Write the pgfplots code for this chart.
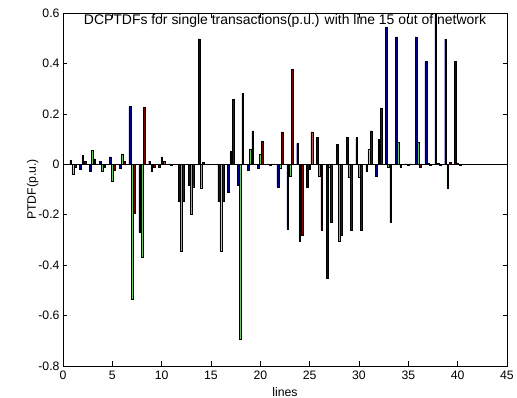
\documentclass[border=0pt]{standalone}
\usepackage{pgfplots}
\pgfplotsset{compat=1.18}
\usepackage{pgfplotstable}
\usepackage{fontspec}
\setmainfont{Liberation Sans}
\definecolor{mblue}{rgb}{0,0,0.5625}
\definecolor{mgreen}{rgb}{0.42,0.8,0.38}
\definecolor{mred}{rgb}{0.5,0,0}
\pgfplotstableread{
x b g r
1 0.017 -0.040 -0.013
2 -0.019 0.037 0.013
3 -0.027 0.057 0.021
4 0.012 -0.029 -0.012
5 0.029 -0.066 -0.023
6 -0.016 0.038 0.013
7 0.229 -0.536 -0.194
8 -0.271 -0.369 0.225
9 0.013 -0.029 -0.012
10 -0.013 0.029 0.013
11 0.002 -0.002 0.002
12 -0.148 -0.344 -0.148
13 -0.085 -0.197 -0.089
14 0.497 -0.093 0.008
15 0 0 0
16 -0.148 -0.344 -0.148
17 -0.109 0.050 0.258
18 -0.082 -0.694 0.280
19 -0.025 0.061 0.133
20 -0.017 0.041 0.090
21 0.002 -0.002 0.002
22 -0.091 -0.015 0.129
23 -0.258 -0.049 0.377
24 0.083 -0.307 -0.283
25 -0.091 -0.020 0.129
26 0.106 -0.049 -0.261
27 -0.452 -0.010 -0.230
28 0.079 -0.307 -0.283
29 0.106 -0.052 -0.263
30 0.106 -0.052 -0.263
31 -0.027 0.060 0.133
32 -0.046 0.100 0.222
33 0.545 -0.013 -0.230
34 0.505 0.086 -0.010
35 0.002 -0.002 0.002
36 0.505 0.086 -0.010
37 0.407 0.003 -0.003
38 0.600 0.003 -0.003
39 0.496 -0.093 0.008
40 0.407 0.003 -0.003
}\data
\begin{document}
\begin{tikzpicture}
\begin{axis}[
  scale only axis,
  width=444bp, height=353bp,
  xmin=0, xmax=45, ymin=-0.8, ymax=0.6,
  xtick={0,5,...,45},
  ytick={-0.8,-0.6,-0.4,-0.2,0,0.2,0.4,0.6},
  yticklabel style={/pgf/number format/fixed,/pgf/number format/precision=1},
  xticklabel style={yshift=-1.5bp},
  /pgf/number format/assume math mode=true,
  tick align=inside,
  major tick length=4.5bp,
  axis line style={line width=0.6bp},
  tick style={line width=0.6bp, black},
  every tick label/.append style={font=\fontsize{12.3}{14}\selectfont},
  xlabel={lines},
  ylabel={PTDF(p.u.)},
  every axis x label/.style={at={(axis description cs:0.5,-0.073)},anchor=center,font=\fontsize{12.3}{14}\selectfont},
  every axis y label/.style={at={(axis description cs:-0.068,0.5)},anchor=center,rotate=90,font=\fontsize{12.3}{14}\selectfont},
  title={DCPTDFs for single transactions(p.u.) with line 15 out of network},
  every axis title/.style={at={(axis description cs:0.5,0.977)},anchor=center,font=\fontsize{14}{16}\selectfont},
]
\addplot[ybar, bar width=0.178, bar shift=-0.222, fill=mblue, draw=black, line width=0.45bp] table[x=x,y=b]{\data};
\addplot[ybar, bar width=0.178, bar shift=0, fill=mgreen, draw=black, line width=0.45bp] table[x=x,y=g]{\data};
\addplot[ybar, bar width=0.178, bar shift=0.222, fill=mred, draw=black, line width=0.45bp] table[x=x,y=r]{\data};
\addplot[black, line width=0.6bp, forget plot] coordinates {(0,0) (45,0)};
\end{axis}
\pgfresetboundingbox
\path (-63bp,-32bp) rectangle (454bp,366bp);
\end{tikzpicture}
\end{document}
